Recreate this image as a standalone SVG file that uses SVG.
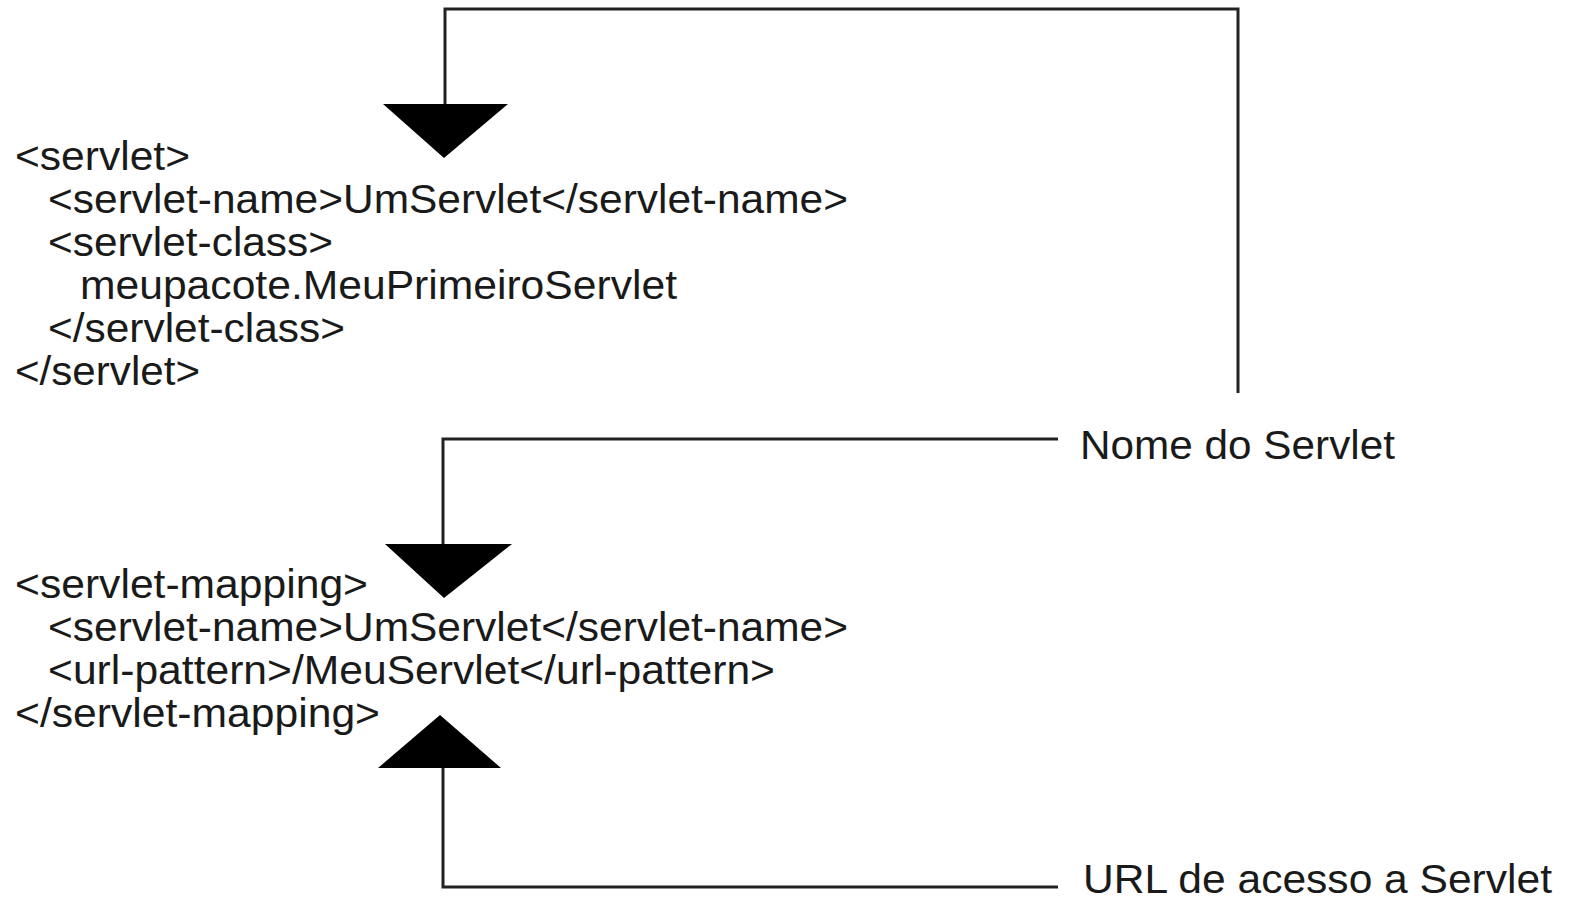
<svg xmlns="http://www.w3.org/2000/svg" width="1575" height="902" viewBox="0 0 1575 902">
<style>
.t{font-family:"Liberation Sans",Arial,sans-serif;font-size:41px;fill:#1a1a1a}
.c{fill:none;stroke:#222;stroke-width:3}
.a{fill:#000}
</style>
<rect width="1575" height="902" fill="#fff"/>
<g id="connectors">
<polyline class="c" points="1238,393 1238,9 445,9 445,106"/>
<polygon class="a" points="383,104 508,104 444,158"/>
<polyline class="c" points="1058,439 443,439 443,546"/>
<polygon class="a" points="385,544 512,544 444,598"/>
<polyline class="c" points="1058,887 443,887 443,766"/>
<polygon class="a" points="378,768 501,768 440,715"/>
</g>
<g id="servlet">
<text class="t" x="15" y="170" textLength="175" lengthAdjust="spacingAndGlyphs">&lt;servlet&gt;</text>
<text class="t" x="48" y="213" textLength="800" lengthAdjust="spacingAndGlyphs">&lt;servlet-name&gt;UmServlet&lt;/servlet-name&gt;</text>
<text class="t" x="48" y="256" textLength="285" lengthAdjust="spacingAndGlyphs">&lt;servlet-class&gt;</text>
<text class="t" x="80" y="299" textLength="597" lengthAdjust="spacingAndGlyphs">meupacote.MeuPrimeiroServlet</text>
<text class="t" x="48" y="342" textLength="297" lengthAdjust="spacingAndGlyphs">&lt;/servlet-class&gt;</text>
<text class="t" x="15" y="385" textLength="185" lengthAdjust="spacingAndGlyphs">&lt;/servlet&gt;</text>
</g>
<g id="servlet-mapping">
<text class="t" x="15" y="598" textLength="353" lengthAdjust="spacingAndGlyphs">&lt;servlet-mapping&gt;</text>
<text class="t" x="48" y="641" textLength="800" lengthAdjust="spacingAndGlyphs">&lt;servlet-name&gt;UmServlet&lt;/servlet-name&gt;</text>
<text class="t" x="48" y="684" textLength="727" lengthAdjust="spacingAndGlyphs">&lt;url-pattern&gt;/MeuServlet&lt;/url-pattern&gt;</text>
<text class="t" x="15" y="727" textLength="365" lengthAdjust="spacingAndGlyphs">&lt;/servlet-mapping&gt;</text>
</g>
<g id="label-nome">
<text class="t" x="1080" y="459" textLength="315" lengthAdjust="spacingAndGlyphs">Nome do Servlet</text>
</g>
<g id="label-url">
<text class="t" x="1083" y="893" font-size="40" textLength="469" lengthAdjust="spacingAndGlyphs">URL de acesso a Servlet</text>
</g>
</svg>
